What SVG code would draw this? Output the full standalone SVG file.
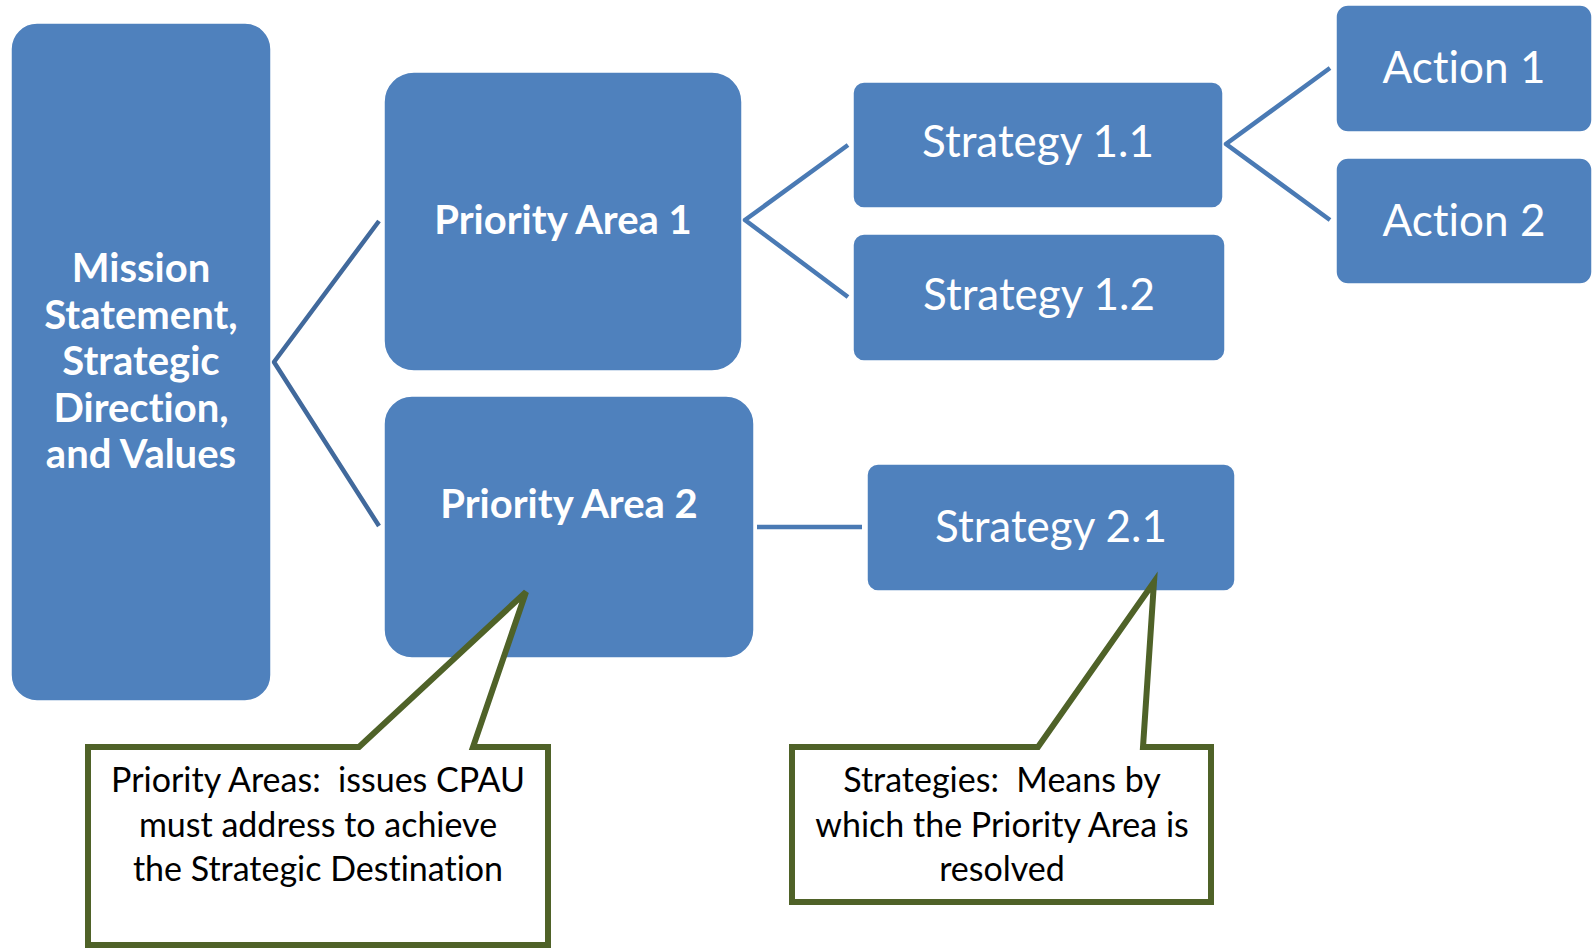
<svg xmlns="http://www.w3.org/2000/svg" width="1593" height="948" viewBox="0 0 1593 948">
<style>
text{font-variant-ligatures:none;font-feature-settings:"liga" 0}
.box{fill:#4F81BD;stroke:#FFFFFF;stroke-width:1.5}
.bt{font-family:Lato,"Open Sans","Liberation Sans",sans-serif;fill:#FFFFFF;text-anchor:middle}
.b{font-weight:bold;font-size:40px}
.r{font-size:44px}
.conn{fill:none;stroke:#4A7AB4;stroke-width:4.5}
.conn0{fill:none;stroke:#41699C;stroke-width:4.5}
.call{fill:#FFFFFF;stroke:#4F6228;stroke-width:6;stroke-linejoin:miter}
.ct{font-family:Lato,"Open Sans","Liberation Sans",sans-serif;font-size:34px;fill:#000000;text-anchor:middle}
</style>
<rect width="1593" height="948" fill="#FFFFFF"/>
<g id="connectors">
<polyline class="conn0" points="379,221 274,362 379,526"/>
<polyline class="conn" points="848,145 745,220 848,297"/>
<polyline class="conn" points="1330,68 1226,144 1330,220"/>
<line class="conn" x1="757" y1="527" x2="862" y2="527"/>
</g>
<g id="mission">
<rect class="box" x="11" y="23" width="260" height="678" rx="26"/>
<text class="bt b"><tspan x="141" y="282">Mission</tspan><tspan x="141" y="328.5">Statement,</tspan><tspan x="141" y="375">Strategic</tspan><tspan x="141" y="421.5">Direction,</tspan><tspan x="141" y="468">and Values</tspan></text>
</g>
<g id="priority1">
<rect class="box" x="384" y="72" width="358" height="299" rx="30"/>
<text class="bt b" x="563" y="234">Priority Area 1</text>
</g>
<g id="priority2">
<rect class="box" x="384" y="396" width="370" height="262" rx="28"/>
<text class="bt b" x="569" y="518">Priority Area 2</text>
</g>
<g id="strategy11">
<rect class="box" x="853" y="82" width="370" height="126" rx="11"/>
<text class="bt r" x="1038" y="157">Strategy 1.1</text>
</g>
<g id="strategy12">
<rect class="box" x="853" y="234" width="372" height="127" rx="11"/>
<text class="bt r" x="1039" y="310">Strategy 1.2</text>
</g>
<g id="strategy21">
<rect class="box" x="867" y="464" width="368" height="127" rx="11"/>
<text class="bt r" x="1051" y="542">Strategy 2.1</text>
</g>
<g id="action1">
<rect class="box" x="1336" y="5" width="256" height="127" rx="12"/>
<text class="bt r" x="1464" y="83">Action 1</text>
</g>
<g id="action2">
<rect class="box" x="1336" y="158" width="256" height="126" rx="12"/>
<text class="bt r" x="1464" y="236">Action 2</text>
</g>
<g id="callout1">
<path class="call" d="M88,747 L359,747 L526,592 L473,747 L548,747 L548,945 L88,945 Z"/>
<text class="ct" xml:space="preserve"><tspan x="318" y="792">Priority Areas:  issues CPAU</tspan><tspan x="318" y="837">must address to achieve</tspan><tspan x="318" y="881">the Strategic Destination</tspan></text>
</g>
<g id="callout2">
<path class="call" d="M792,747 L1038,747 L1154,582 L1143,747 L1211,747 L1211,902 L792,902 Z"/>
<text class="ct" xml:space="preserve"><tspan x="1002" y="792">Strategies:  Means by</tspan><tspan x="1002" y="837">which the Priority Area is</tspan><tspan x="1002" y="881">resolved</tspan></text>
</g>
</svg>
